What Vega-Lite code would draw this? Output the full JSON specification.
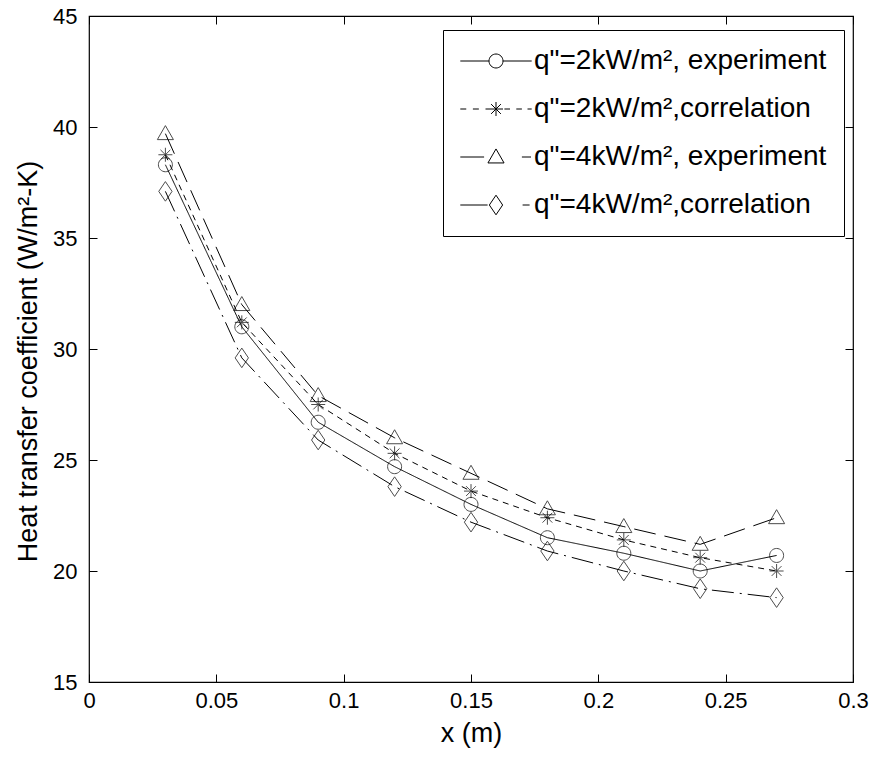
{
  "$schema": "https://vega.github.io/schema/vega-lite/v6.json",
  "width": 764,
  "height": 666,
  "autosize": {"type": "none"},
  "padding": {"left": 89, "top": 16, "right": 22, "bottom": 77},
  "background": "white",
  "config": {
    "view": {"stroke": "black", "strokeWidth": 1.2},
    "font": "Liberation Sans",
    "axis": {
      "grid": false,
      "domain": false,
      "tickColor": "black",
      "tickWidth": 1,
      "tickSize": -8,
      "labelColor": "black",
      "titleColor": "black",
      "labelFont": "Liberation Sans",
      "titleFont": "Liberation Sans",
      "labelFontSize": 22,
      "titleFontSize": 27,
      "titleFontWeight": "normal"
    }
  },
  "data": {
    "values": [
      {"x": 0.03, "h": 38.3, "s": "q\"=2kW/m², experiment"},
      {"x": 0.06, "h": 31.0, "s": "q\"=2kW/m², experiment"},
      {"x": 0.09, "h": 26.7, "s": "q\"=2kW/m², experiment"},
      {"x": 0.12, "h": 24.7, "s": "q\"=2kW/m², experiment"},
      {"x": 0.15, "h": 23.0, "s": "q\"=2kW/m², experiment"},
      {"x": 0.18, "h": 21.5, "s": "q\"=2kW/m², experiment"},
      {"x": 0.21, "h": 20.8, "s": "q\"=2kW/m², experiment"},
      {"x": 0.24, "h": 20.0, "s": "q\"=2kW/m², experiment"},
      {"x": 0.27, "h": 20.7, "s": "q\"=2kW/m², experiment"},
      {"x": 0.03, "h": 38.75, "s": "q\"=2kW/m²,correlation"},
      {"x": 0.06, "h": 31.2, "s": "q\"=2kW/m²,correlation"},
      {"x": 0.09, "h": 27.5, "s": "q\"=2kW/m²,correlation"},
      {"x": 0.12, "h": 25.3, "s": "q\"=2kW/m²,correlation"},
      {"x": 0.15, "h": 23.6, "s": "q\"=2kW/m²,correlation"},
      {"x": 0.18, "h": 22.4, "s": "q\"=2kW/m²,correlation"},
      {"x": 0.21, "h": 21.4, "s": "q\"=2kW/m²,correlation"},
      {"x": 0.24, "h": 20.6, "s": "q\"=2kW/m²,correlation"},
      {"x": 0.27, "h": 20.0, "s": "q\"=2kW/m²,correlation"},
      {"x": 0.03, "h": 39.7, "s": "q\"=4kW/m², experiment"},
      {"x": 0.06, "h": 32.0, "s": "q\"=4kW/m², experiment"},
      {"x": 0.09, "h": 27.9, "s": "q\"=4kW/m², experiment"},
      {"x": 0.12, "h": 26.0, "s": "q\"=4kW/m², experiment"},
      {"x": 0.15, "h": 24.4, "s": "q\"=4kW/m², experiment"},
      {"x": 0.18, "h": 22.8, "s": "q\"=4kW/m², experiment"},
      {"x": 0.21, "h": 22.0, "s": "q\"=4kW/m², experiment"},
      {"x": 0.24, "h": 21.2, "s": "q\"=4kW/m², experiment"},
      {"x": 0.27, "h": 22.4, "s": "q\"=4kW/m², experiment"},
      {"x": 0.03, "h": 37.1, "s": "q\"=4kW/m²,correlation"},
      {"x": 0.06, "h": 29.6, "s": "q\"=4kW/m²,correlation"},
      {"x": 0.09, "h": 25.9, "s": "q\"=4kW/m²,correlation"},
      {"x": 0.12, "h": 23.8, "s": "q\"=4kW/m²,correlation"},
      {"x": 0.15, "h": 22.2, "s": "q\"=4kW/m²,correlation"},
      {"x": 0.18, "h": 20.9, "s": "q\"=4kW/m²,correlation"},
      {"x": 0.21, "h": 20.0, "s": "q\"=4kW/m²,correlation"},
      {"x": 0.24, "h": 19.2, "s": "q\"=4kW/m²,correlation"},
      {"x": 0.27, "h": 18.8, "s": "q\"=4kW/m²,correlation"}
    ]
  },
  "resolve": {"axis": {"x": "independent", "y": "independent"}, "scale": {"shape": "independent"}},
  "layer": [
    {
      "mark": {"type": "line", "color": "black", "strokeWidth": 1},
      "encoding": {
        "x": {
          "field": "x", "type": "quantitative",
          "scale": {"domain": [0, 0.3], "nice": false, "zero": false},
          "axis": {"values": [0, 0.05, 0.1, 0.15, 0.2, 0.25, 0.3], "format": "~g", "labelPadding": 16, "title": "x (m)", "titlePadding": 9, "labelFlush": false}
        },
        "y": {
          "field": "h", "type": "quantitative",
          "scale": {"domain": [15, 45], "nice": false, "zero": false},
          "axis": {"values": [15, 20, 25, 30, 35, 40, 45], "labelPadding": 20, "title": "Heat transfer coefficient (W/m²-K)", "titlePadding": 10, "titleY": 345, "labelFlush": false}
        },
        "strokeDash": {
          "field": "s", "type": "nominal",
          "scale": {
            "domain": ["q\"=2kW/m², experiment", "q\"=2kW/m²,correlation", "q\"=4kW/m², experiment", "q\"=4kW/m²,correlation"],
            "range": [[1, 0], [6, 5], [22, 9], [22, 6, 2, 6]]
          },
          "legend": null
        }
      }
    },
    {
      "mark": {"type": "point", "filled": false, "color": "black", "strokeWidth": 1, "size": 196},
      "encoding": {
        "x": {
          "field": "x", "type": "quantitative",
          "axis": {"orient": "top", "values": [0, 0.05, 0.1, 0.15, 0.2, 0.25, 0.3], "labels": false, "title": null}
        },
        "y": {
          "field": "h", "type": "quantitative",
          "axis": {"orient": "right", "values": [15, 20, 25, 30, 35, 40, 45], "labels": false, "title": null}
        },
        "shape": {
          "field": "s", "type": "nominal",
          "scale": {
            "domain": ["q\"=2kW/m², experiment", "q\"=2kW/m²,correlation", "q\"=4kW/m², experiment", "q\"=4kW/m²,correlation"],
            "range": [
              "M1,0A1,1,0,1,1,-1,0A1,1,0,1,1,1,0Z",
              "M0,-1L0,1M-1,0L1,0M-0.7,-0.7L0.7,0.7M-0.7,0.7L0.7,-0.7",
              "M0,-1.15L1.15,0.85L-1.15,0.85Z",
              "M0,-1.4L0.95,0L0,1.4L-0.95,0Z"
            ]
          },
          "legend": null
        }
      }
    },
    {
      "transform": [{"filter": "datum.x < 0"}],
      "mark": {"type": "point", "filled": false, "color": "black", "strokeWidth": 1, "size": 196},
      "encoding": {
        "x": {"field": "x", "type": "quantitative", "axis": null},
        "y": {"field": "h", "type": "quantitative", "axis": null},
        "shape": {
          "field": "s", "type": "nominal",
          "scale": {
            "domain": ["q\"=2kW/m², experiment", "q\"=2kW/m²,correlation", "q\"=4kW/m², experiment", "q\"=4kW/m²,correlation"],
            "range": [
              "M-5.1,0L-1,0M1,0L5.1,0M1,0A1,1,0,1,1,-1,0A1,1,0,1,1,1,0Z",
              "M-5.1,0L-4.25,0M-3.3,0L-2.45,0M-1.5,0L-1,0M1.2,0L2,0M2.9,0L3.7,0M4.5,0L5.1,0M0,-1L0,1M-1,0L1,0M-0.7,-0.7L0.7,0.7M-0.7,0.7L0.7,-0.7",
              "M-5.1,0L-1.7,0M3.7,0L5,0M0,-1.15L1.15,0.85L-1.15,0.85Z",
              "M-5.1,0L-1.2,0M3.8,0L4.8,0M0,-1.4L0.95,0L0,1.4L-0.95,0Z"
            ]
          },
          "legend": {
            "title": null,
            "orient": "none",
            "legendX": 354,
            "legendY": 14,
            "padding": 17,
            "strokeColor": "black",
            "fillColor": "white",
            "labelFont": "Liberation Sans",
            "labelFontSize": 28,
            "labelColor": "black",
            "labelLimit": 1000,
            "symbolSize": 196,
            "symbolStrokeWidth": 1,
            "symbolStrokeColor": "black",
            "symbolOpacity": 1,
            "symbolOffset": 22,
            "labelOffset": 24,
            "rowPadding": 20
          }
        }
      }
    }
  ]
}
